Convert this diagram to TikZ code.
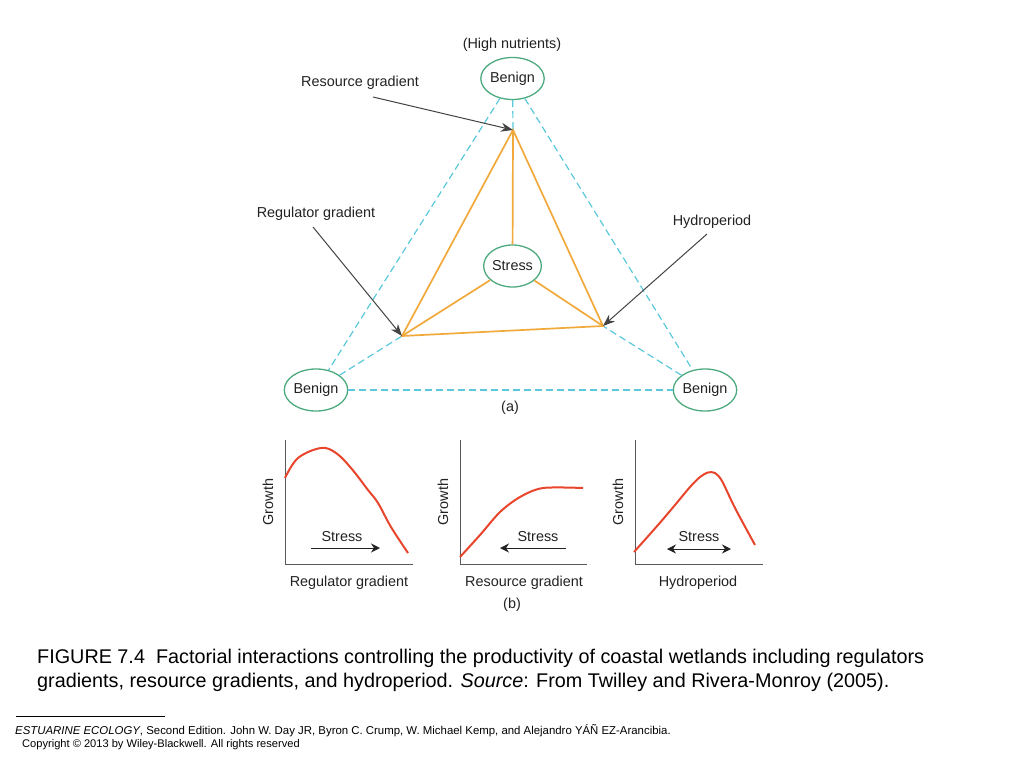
\documentclass[tikz,border=0pt]{standalone}
\usepackage{fontspec}
\setmainfont{Liberation Sans}
\usetikzlibrary{shapes.geometric,arrows.meta}
\definecolor{ellgreen}{HTML}{4DAA7E}
\definecolor{dashcyan}{HTML}{5BC8DB}
\definecolor{triorange}{HTML}{F2A93B}
\definecolor{curvered}{HTML}{E8452C}
\definecolor{labgray}{HTML}{222222}
\tikzset{
  stip/.tip={Stealth[length=9pt,width=9pt]},
  ell/.style={ellipse,draw=ellgreen,line width=1.3pt,minimum width=57pt,minimum height=42pt,inner sep=0pt,font=\fontsize{14.4}{16}\selectfont,text=labgray},
  cyandash/.style={draw=dashcyan,line width=1.2pt,dash pattern=on 7pt off 4pt},
  orangeline/.style={draw=triorange,line width=1.7pt},
  pointer/.style={draw=labgray!85,line width=1pt,-{Stealth[length=12pt,width=9pt]}},
  lab/.style={font=\fontsize{14.4}{16}\selectfont,text=labgray,inner sep=0pt},
  axis/.style={draw=black!65,line width=1pt},
  curve/.style={draw=curvered,line width=2pt},
  stressarrow/.style={draw=labgray,line width=1pt},
}
\begin{document}
\begin{tikzpicture}[x=1pt,y=-1pt]
\useasboundingbox[fill=white] (0,0) rectangle (1024,768);
% ---- (a) triangle diagram
\node[lab] (hn) at (512,45) {(High nutrients)};
\node[ell] (tb) at (512.5,78.5) {Benign};
\node[ell] (bl) at (316,390) {Benign};
\node[ell] (br) at (705,390) {Benign};
\node[ell] (st) at (512.5,266) {Stress};
\node[lab] (la) at (510,408) {(a)};
\coordinate (vt) at (513,130);
\coordinate (vl) at (402,336);
\coordinate (vr) at (603,326);
% dashed
\draw[cyandash] (tb) -- (bl);
\draw[cyandash] (tb) -- (br);
\draw[cyandash] (bl) -- (br);
\draw[cyandash] (tb) -- (vt);
\draw[cyandash] (bl) -- (vl);
\draw[cyandash] (br) -- (vr);
% orange
\draw[orangeline,line join=miter] (vt) -- (vl) -- (vr) -- cycle;
\draw[orangeline] (vt) -- (st);
\draw[orangeline] (vl) -- (st);
\draw[orangeline] (vr) -- (st);
% labels and pointers
\node[lab] (rg) at (360,83) {Resource gradient};
\node[lab] (gg) at (316,214) {Regulator gradient};
\node[lab] (hp) at (712,222) {Hydroperiod};
\coordinate (rgs) at (373,97);
\coordinate (ggs) at (313,227);
\coordinate (hps) at (707,234);
\draw[pointer] (rgs) -- (vt);
\draw[pointer] (ggs) -- (vl);
\draw[pointer] (hps) -- (vr);
% ---- (b) graphs
% graph 1
\draw[axis] (285,440) -- (285,564) -- (413,564);
\draw[curve] plot[smooth,tension=0.6] coordinates {(285,478) (298,458) (321,448) (336,453) (351,468) (368,490) (378,503) (391,527) (408,553)};
\node[lab,rotate=90] (g1y) at (268,502) {Growth};
\node[lab] (g1s) at (342,537) {Stress};
\coordinate (g1a) at (311,548);
\coordinate (g1b) at (380,548);
\draw[stressarrow,-{stip}] (g1a) -- (g1b);
\node[lab] (g1x) at (349,583) {Regulator gradient};
% graph 2
\draw[axis] (460,440) -- (460,564) -- (587,564);
\draw[curve] plot[smooth,tension=0.5] coordinates {(460,557) (480,535) (500,512) (520,497) (543,488) (583,488)};
\node[lab,rotate=90] (g2y) at (443,502) {Growth};
\node[lab] (g2s) at (538,537) {Stress};
\coordinate (g2a) at (566,548);
\coordinate (g2b) at (500,548);
\draw[stressarrow,-{stip}] (g2a) -- (g2b);
\node[lab] (g2x) at (524,583) {Resource gradient};
% graph 3
\draw[axis] (635,440) -- (635,564) -- (763,564);
\draw[curve] plot[smooth,tension=0.5] coordinates {(634,552) (658,525) (675,505) (690,487) (700,477) (708,472.5) (715,473) (722,481) (735,508) (755,545)};
\node[lab,rotate=90] (g3y) at (618,502) {Growth};
\node[lab] (g3s) at (699,537) {Stress};
\coordinate (g3a) at (667,549);
\coordinate (g3b) at (731,549);
\draw[stressarrow,{stip}-{stip}] (g3a) -- (g3b);
\node[lab] (g3x) at (698,583) {Hydroperiod};
\node[lab] (lb) at (512,605) {(b)};
% ---- caption
\node[anchor=base west,inner sep=0pt,font=\fontsize{19.8}{22}\selectfont] (cap1) at (37,663) {FIGURE 7.4\ \ Factorial interactions controlling the productivity of coastal wetlands including regulators};
\node[anchor=base west,inner sep=0pt,font=\fontsize{19.8}{22}\selectfont] (cap2) at (37,687) {gradients, resource gradients, and hydroperiod. \textit{Source}: From Twilley and Rivera-Monroy (2005).};
% ---- footer
\coordinate (fl1) at (16,716);
\coordinate (fl2) at (165,716);
\draw[line width=1pt] (fl1) -- (fl2);
\node[anchor=base west,inner sep=0pt,font=\fontsize{11.4}{12}\selectfont] (ft1) at (15,734) {\textit{ESTUARINE ECOLOGY}, Second Edition. John W. Day JR, Byron C. Crump, W. Michael Kemp, and Alejandro YÁÑ EZ-Arancibia.};
\node[anchor=base west,inner sep=0pt,font=\fontsize{11.1}{12}\selectfont] (ft2) at (22,747) {Copyright © 2013 by Wiley-Blackwell. All rights reserved};
\end{tikzpicture}
\end{document}
